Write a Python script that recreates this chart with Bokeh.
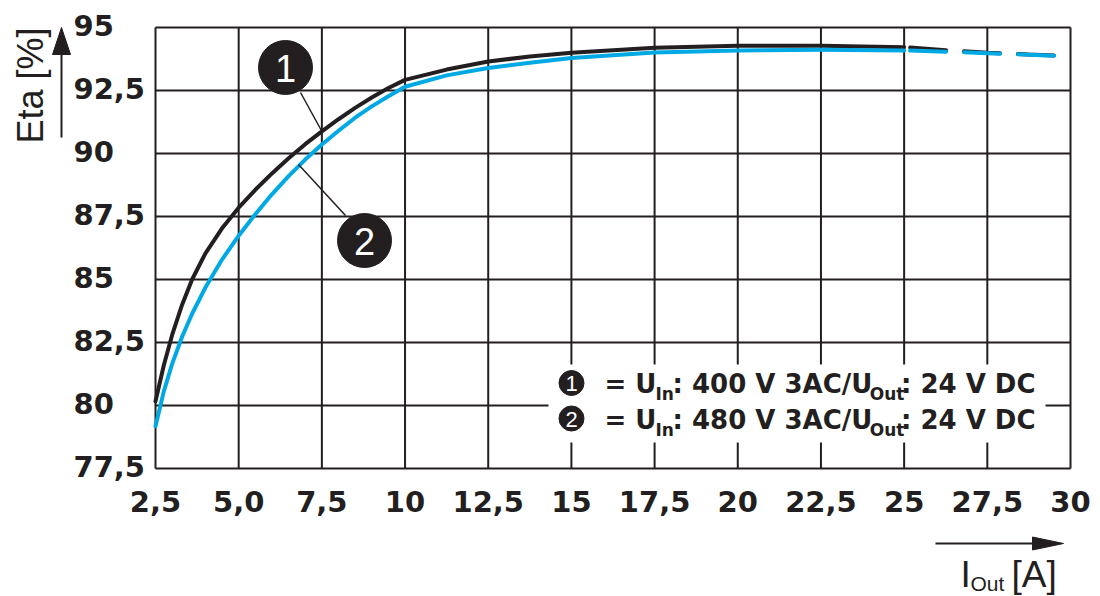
import math
from bokeh.plotting import figure
from bokeh.models import Range1d, Label
from bokeh.core.properties import value
from bokeh.embed import file_html
from bokeh.resources import INLINE

# ---------------- data ----------------
x_ticks = [2.5, 5.0, 7.5, 10.0, 12.5, 15.0, 17.5, 20.0, 22.5, 25.0, 27.5, 30.0]
x_tick_labels = ["2,5", "5,0", "7,5", "10", "12,5", "15", "17,5", "20", "22,5", "25", "27,5", "30"]
y_ticks = [77.5, 80.0, 82.5, 85.0, 87.5, 90.0, 92.5, 95.0]
y_tick_labels = ["77,5", "80", "82,5", "85", "87,5", "90", "92,5", "95"]

# curve 1: U_In 400 V 3AC (black)
i_out_1 = [2.5, 2.75, 3.0, 3.3, 3.6, 4.0, 4.5, 5.0, 5.5, 6.0, 6.5, 7.0, 7.5, 8.0, 8.5, 9.0, 9.5, 10.0,
           11.25, 12.5, 13.75, 15.0, 17.5, 20.0, 22.5, 25.0]
eta_1 = [80.17, 81.6, 82.8, 84.0, 85.0, 86.04, 87.03, 87.85, 88.56, 89.21, 89.81, 90.37, 90.88, 91.36, 91.81,
         92.22, 92.6, 92.92, 93.33, 93.65, 93.85, 94.0, 94.2, 94.28, 94.28, 94.22]
i_out_1_ext = [25.0, 26.25, 27.5, 28.75, 29.55]
eta_1_ext = [94.22, 94.1, 94.0, 93.93, 93.89]

# curve 2: U_In 480 V 3AC (blue)
i_out_2 = [2.5, 2.75, 3.0, 3.3, 3.6, 4.0, 4.5, 5.0, 5.5, 6.0, 6.5, 7.0, 7.5, 8.0, 8.5, 9.0, 9.5, 10.0,
           11.25, 12.5, 13.75, 15.0, 17.5, 20.0, 22.5, 25.0]
eta_2 = [79.18, 80.56, 81.65, 82.73, 83.64, 84.68, 85.79, 86.74, 87.59, 88.38, 89.1, 89.76, 90.36, 90.9, 91.42,
         91.87, 92.27, 92.65, 93.1, 93.39, 93.6, 93.79, 94.01, 94.09, 94.12, 94.09]
i_out_2_ext = [25.0, 26.25, 27.5, 28.75, 29.55]
eta_2_ext = [94.09, 94.04, 93.98, 93.92, 93.88]

legend_numbers = ["1", "2"]
legend_rows = [("400 V 3AC/U", "24 V DC"), ("480 V 3AC/U", "24 V DC")]

# ---------------- styling / layout ----------------
DARK = "#231f20"
BLUE = "#00a9e4"
X0, X1 = 2.5, 30.0
Y0, Y1 = 77.5, 95.0
W, H = 1100, 596
# where the chart's grid box sits, in picture pixels
FL, FT, FR, FB = 155, 27, 1070, 468
BASE_SHIFT = 0.32  # renderer puts the alphabetic baseline ~0.32em lower


def xd(px):
    return X0 + (px - FL) / (FR - FL) * (X1 - X0)


def yd(py):
    return Y1 - (py - FT) / (FB - FT) * (Y1 - Y0)


def ypx(v):
    return FT + (Y1 - v) / (Y1 - Y0) * (FB - FT)


def ybase(py, size):
    return yd(py - BASE_SHIFT * size)


p = figure(width=W, height=H, x_range=Range1d(xd(0), xd(W)), y_range=Range1d(yd(H), yd(0)),
           output_backend="svg", toolbar_location=None,
           x_axis_location=None, y_axis_location=None,
           min_border=0, min_border_left=0, min_border_right=0, min_border_top=0, min_border_bottom=0)
p.background_fill_color = "white"
p.border_fill_color = "white"
p.outline_line_color = None
p.grid.visible = False

# grid
p.segment(x0=x_ticks, y0=[Y0] * len(x_ticks), x1=x_ticks, y1=[Y1] * len(x_ticks),
          line_color=DARK, line_width=2)
p.segment(x0=[X0] * len(y_ticks), y0=y_ticks, x1=[X1] * len(y_ticks), y1=y_ticks,
          line_color=DARK, line_width=2)

TICK = 29
p.text(x=x_ticks, y=[ybase(510, TICK)] * len(x_ticks), text=x_tick_labels,
       text_align="center", text_baseline="alphabetic", text_font=value("DejaVu Sans"),
       text_font_style="bold", text_font_size=f"{TICK}px", text_color=DARK)
p.text(x=[xd(73)] * len(y_ticks), y=[ybase(ypx(t) + 7, TICK) for t in y_ticks], text=y_tick_labels,
       text_align="left", text_baseline="alphabetic", text_font=value("DejaVu Sans"),
       text_font_style="bold", text_font_size=f"{TICK}px", text_color=DARK)

# legend white background
p.quad(left=[xd(548)], right=[xd(1045)], top=[yd(364)], bottom=[yd(442)],
       fill_color="white", line_color=None)

# curves
p.line(i_out_1, eta_1, line_color=DARK, line_width=4, line_join="round", line_cap="round")
p.line(i_out_1_ext, eta_1_ext, line_color=DARK, line_width=4, line_dash="36 18",
       line_dash_offset=48, line_cap="round")
p.line(i_out_2, eta_2, line_color=BLUE, line_width=4, line_join="round", line_cap="round")
p.line(i_out_2_ext, eta_2_ext, line_color=BLUE, line_width=4, line_dash="36 18",
       line_dash_offset=48, line_cap="round")

# callouts
p.segment(x0=[xd(300), xd(298)], y0=[yd(92), yd(164)], x1=[xd(322), xd(345)], y1=[yd(132), yd(215)],
          line_color=DARK, line_width=1.5)
callout_px = [(285, 67), (364, 240)]
p.scatter([xd(a) for a, b in callout_px], [yd(b) for a, b in callout_px], marker="circle", size=54,
          fill_color=DARK, line_color=DARK)
for n, (a, b) in zip(legend_numbers, callout_px):
    p.add_layout(Label(x=xd(a), y=ybase(b + 13.5, 38), text=n, text_align="center",
                       text_baseline="alphabetic", text_font="Liberation Sans",
                       text_font_size="38px", text_color="white"))

# legend
row_center = [382.5, 418.0]
p.scatter([xd(571)] * 2, [yd(c) for c in row_center], marker="circle", size=25,
          fill_color=DARK, line_color=DARK)
for n, (mid, tail), c in zip(legend_numbers, legend_rows, row_center):
    base = c + 9.5
    p.add_layout(Label(x=xd(571), y=ybase(c + 8, 22), text=n, text_align="center",
                       text_baseline="alphabetic", text_font="Liberation Sans",
                       text_font_size="22px", text_color="white"))
    common = dict(text_baseline="alphabetic", text_font="DejaVu Sans", text_font_style="bold",
                  text_color=DARK)
    p.add_layout(Label(x=xd(604), y=ybase(base, 26), text="= U", text_align="left",
                       text_font_size="26px", **common))
    p.add_layout(Label(x=xd(655), y=ybase(base + 7, 17), text="In", text_align="left",
                       text_font_size="17px", **common))
    p.add_layout(Label(x=xd(672), y=ybase(base, 26), text=": " + mid, text_align="left",
                       text_font_size="26px", **common))
    p.add_layout(Label(x=xd(904), y=ybase(base + 7, 17), text="Out", text_align="right",
                       text_font_size="17px", **common))
    p.add_layout(Label(x=xd(1035), y=ybase(base, 26), text=": " + tail, text_align="right",
                       text_font_size="26px", **common))

# axis titles with arrows
p.add_layout(Label(x=xd(42 - BASE_SHIFT * 36), y=yd(85), text="Eta [%]", angle=math.pi / 2,
                   text_align="center", text_baseline="alphabetic", text_font="Liberation Sans",
                   text_font_size="36px", text_color=DARK))
p.segment(x0=[xd(61), xd(935)], y0=[yd(137), yd(543)], x1=[xd(61), xd(1040)], y1=[yd(50), yd(543)],
          line_color=DARK, line_width=2)
p.patches(xs=[[xd(61), xd(52), xd(70)], [xd(1063), xd(1032), xd(1032)]],
          ys=[[yd(27), yd(54), yd(54)], [yd(543), yd(536.5), yd(549.5)]],
          fill_color=DARK, line_color=DARK, line_width=1)
p.add_layout(Label(x=xd(960), y=ybase(586, 37), text="I", text_align="left",
                   text_baseline="alphabetic", text_font="Liberation Sans",
                   text_font_size="37px", text_color=DARK))
p.add_layout(Label(x=xd(970), y=ybase(590, 21), text="Out", text_align="left",
                   text_baseline="alphabetic", text_font="Liberation Sans",
                   text_font_size="21px", text_color=DARK))
p.add_layout(Label(x=xd(1011), y=ybase(586, 37), text="[A]", text_align="left",
                   text_baseline="alphabetic", text_font="Liberation Sans",
                   text_font_size="37px", text_color=DARK))

open("out.html", "w").write(file_html(p, INLINE))
